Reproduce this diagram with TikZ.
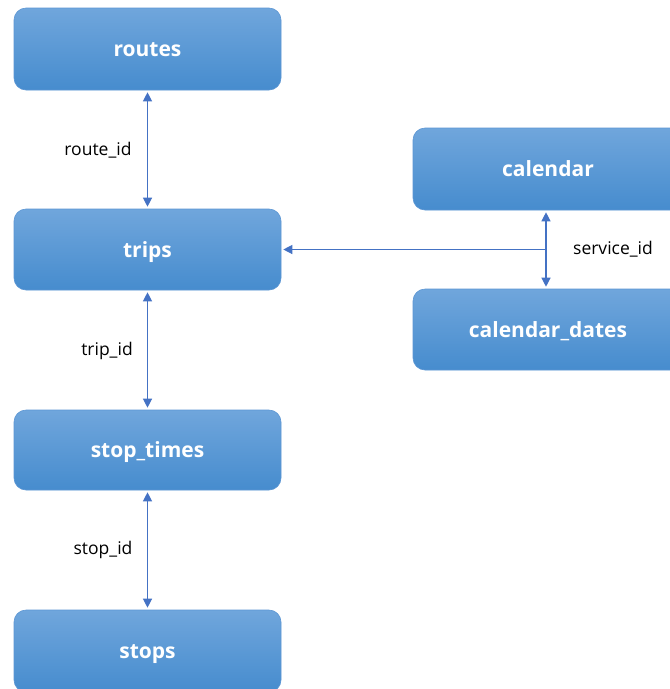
\documentclass[tikz,border=0pt]{standalone}
\usepackage{fontspec}
\setmainfont{Open Sans}
\usetikzlibrary{arrows.meta}
\definecolor{boxtop}{RGB}{112,166,220}
\definecolor{boxbot}{RGB}{70,140,206}
\definecolor{boxedge}{RGB}{92,150,212}
\definecolor{arrowc}{RGB}{68,114,196}
\tikzset{
  tbl/.style={rectangle, rounded corners=12pt, top color=boxtop, bottom color=boxbot, draw=boxedge, line width=0.6pt,
    text=white, font=\fontsize{21}{25}\selectfont\bfseries, inner sep=0pt, text depth=0pt, text height=15pt},
  lnk/.style={draw=arrowc, line width=1.2pt, {Triangle[width=9pt,length=9pt]}-{Triangle[width=9pt,length=9pt]}, shorten <=2pt, shorten >=2pt},
  lnk1/.style={draw=arrowc, line width=1.2pt, -{Triangle[width=9pt,length=9pt]}, shorten >=2pt},
  lbl/.style={font=\fontsize{17.5}{21}\selectfont, text=black}
}
\begin{document}
\begin{tikzpicture}[x=1pt,y=-1pt]
\useasboundingbox (0,0) rectangle (670,689);
\clip (0,0) rectangle (670,689);
\path[fill=white] (0,0) rectangle (670,689);
\node[tbl, minimum width=267pt, minimum height=82pt] (routes) at (147.5,49) {routes};
\node[tbl, minimum width=267pt, minimum height=81pt] (trips) at (147.5,249.5) {trips};
\node[tbl, minimum width=267pt, minimum height=80pt] (stoptimes) at (147.5,450) {stop\_times};
\node[tbl, minimum width=267pt, minimum height=82pt] (stops) at (147.5,651) {stops};
\node[tbl, minimum width=270pt, minimum height=82pt] (calendar) at (548,169) {calendar};
\node[tbl, minimum width=270pt, minimum height=81pt] (caldates) at (548,329.5) {calendar\_dates};
\coordinate (j) at (546,249.5);
\draw[lnk] (routes.south) -- (trips.north);
\draw[lnk] (trips.south) -- (stoptimes.north);
\draw[lnk] (stoptimes.south) -- (stops.north);
\draw[lnk] ([xshift=-2pt]calendar.south) -- ([xshift=-2pt]caldates.north);
\draw[lnk1] (j) -- (trips.east);
\node[lbl] (l1) at (98,150) {route\_id};
\node[lbl] (l2) at (107,351) {trip\_id};
\node[lbl] (l3) at (103,550) {stop\_id};
\node[lbl] (l4) at (613,249) {service\_id};
\end{tikzpicture}
\end{document}
